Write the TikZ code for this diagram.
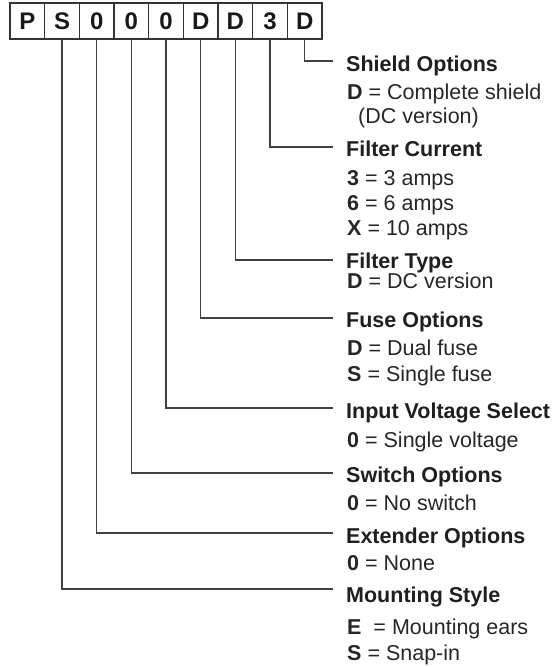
\documentclass[tikz,border=0pt]{standalone}
\usepackage{fontspec}
\setmainfont{Liberation Sans}
\begin{document}
\begin{tikzpicture}[x=1pt,y=-1pt,
  digit/.style={draw=black!80,line width=1.3pt,minimum width=34.67pt,minimum height=36pt,inner sep=0pt,
    font=\fontsize{24}{24}\selectfont\bfseries,text=black!90},
  lead/.style={draw=black!75,line width=1.2pt},
  head/.style={anchor=base west,inner sep=0pt,font=\fontsize{21.5}{24}\selectfont\bfseries,text=black!88},
  opt/.style={anchor=base west,inner sep=0pt,font=\fontsize{21.5}{24}\selectfont,text=black!85}]
\useasboundingbox (0,0) rectangle (555,667);
% code boxes
\foreach \i/\c in {1/P,2/S,3/0,4/0,5/0,6/D,7/D,8/3,9/D}{
  \node[digit] (b\i) at ({10+34.67*(\i-0.5)},21) {\c};
}
% label end points
\coordinate (e9) at (333,61);
\coordinate (e8) at (333,147);
\coordinate (e7) at (333,260);
\coordinate (e6) at (333,318);
\coordinate (e5) at (333,408);
\coordinate (e4) at (333,473);
\coordinate (e3) at (333,533);
\coordinate (e2) at (333,589);
\foreach \i in {2,...,9}{
  \draw[lead] (b\i.south) |- (e\i);
}
% texts
\node[head] (h9) at (346,71) {Shield Options};
\node[opt] (o9a) at (347,99) {\textbf{D} = Complete shield};
\node[opt] (o9b) at (358,123) {(DC version)};
\node[head] (h8) at (346,156) {Filter Current};
\node[opt] (o8a) at (347,185) {\textbf{3} = 3 amps};
\node[opt] (o8b) at (347,210) {\textbf{6} = 6 amps};
\node[opt] (o8c) at (347,235) {\textbf{X} = 10 amps};
\node[head] (h7) at (346,268) {Filter Type};
\node[opt] (o7a) at (347,288) {\textbf{D} = DC version};
\node[head] (h6) at (346,327) {Fuse Options};
\node[opt] (o6a) at (347,355) {\textbf{D} = Dual fuse};
\node[opt] (o6b) at (347,381) {\textbf{S} = Single fuse};
\node[head] (h5) at (346,418) {Input Voltage Select};
\node[opt] (o5a) at (347,447) {\textbf{0} = Single voltage};
\node[head] (h4) at (346,482) {Switch Options};
\node[opt] (o4a) at (347,510) {\textbf{0} = No switch};
\node[head] (h3) at (346,543) {Extender Options};
\node[opt] (o3a) at (347,570) {\textbf{0} = None};
\node[head] (h2) at (346,602) {Mounting Style};
\node[opt] (o2a) at (347,634) {\textbf{E} \ = Mounting ears};
\node[opt] (o2b) at (347,660) {\textbf{S} = Snap-in};
\end{tikzpicture}
\end{document}
